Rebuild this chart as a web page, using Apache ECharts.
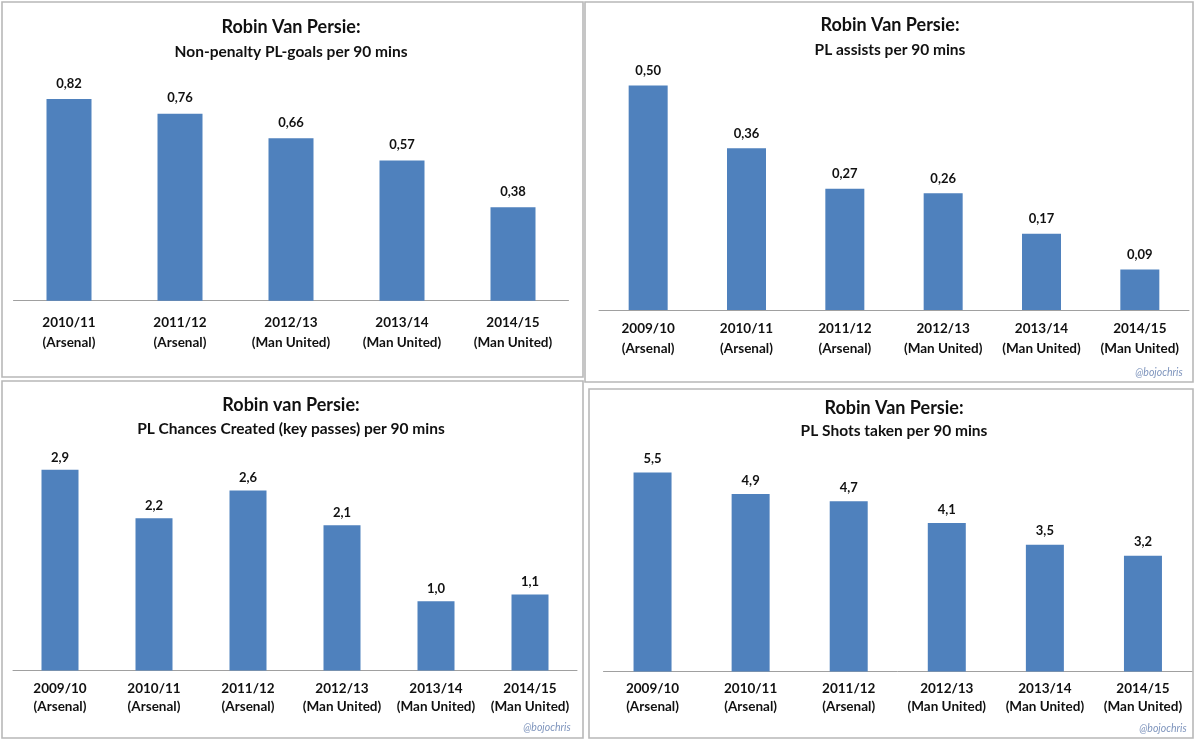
<!DOCTYPE html>
<html>
<head>
<meta charset="utf-8">
<script src="https://cdn.jsdelivr.net/npm/echarts@6/dist/echarts.min.js"></script>
<style>
html,body{margin:0;padding:0;background:#fff;}
#c{width:1200px;height:740px;}
</style>
</head>
<body>
<div id="c"></div>
<script>
// ---- data ----
const goalsSeasons = ['2010/11', '2011/12', '2012/13', '2013/14', '2014/15'];
const goalsClubs = ['Arsenal', 'Arsenal', 'Man United', 'Man United', 'Man United'];
const goalsValues = [0.82, 0.76, 0.66, 0.57, 0.38];

const sixSeasons = ['2009/10', '2010/11', '2011/12', '2012/13', '2013/14', '2014/15'];
const sixClubs = ['Arsenal', 'Arsenal', 'Arsenal', 'Man United', 'Man United', 'Man United'];
const assistsValues = [0.50, 0.36, 0.27, 0.26, 0.17, 0.09];
const chancesValues = [2.9, 2.2, 2.6, 2.1, 1.0, 1.1];
const shotsValues = [5.5, 4.9, 4.7, 4.1, 3.5, 3.2];

const titles = ['Robin Van Persie:', 'Robin Van Persie:', 'Robin van Persie:', 'Robin Van Persie:'];
const subtitles = ['Non-penalty PL-goals per 90 mins', 'PL assists per 90 mins',
  'PL Chances Created (key passes) per 90 mins', 'PL Shots taken per 90 mins'];
const watermark = '@bojochris';

// ---- layout ----
const FONT = 'Lato';
const BAR = '#4F81BD';
const TXT = '#111111';
const panels = [
  {seasons: goalsSeasons, clubs: goalsClubs, values: goalsValues, dec: 2,
   grid: {left: 13.5, width: 555, top: 54.7, height: 246}, max: 1.0, barW: 45,
   tx: 291, ty: 27, sy: 51.5, lblH: 20, margin: 12, dist: 9},
  {seasons: sixSeasons, clubs: sixClubs, values: assistsValues, dec: 2,
   grid: {left: 599, width: 590, top: 40.6, height: 269.4}, max: 0.6, barW: 39,
   tx: 890, ty: 25.5, sy: 50, lblH: 20, margin: 9, dist: 8},
  {seasons: sixSeasons, clubs: sixClubs, values: chancesValues, dec: 1,
   grid: {left: 13, width: 564, top: 393.7, height: 276.8}, max: 4, barW: 37,
   tx: 291, ty: 405.5, sy: 428.5, lblH: 18, margin: 9, dist: 6},
  {seasons: sixSeasons, clubs: sixClubs, values: shotsValues, dec: 1,
   grid: {left: 603.5, width: 588.5, top: 381.9, height: 289.6}, max: 8, barW: 38,
   tx: 894, ty: 408, sy: 431, lblH: 18, margin: 8, dist: 7}
];

const option = {
  backgroundColor: '#ffffff',
  animation: false,
  title: [],
  grid: [],
  xAxis: [],
  yAxis: [],
  series: [],
  graphic: []
};

panels.forEach((p, i) => {
  option.title.push({
    text: titles[i], left: p.tx, top: p.ty - 11, textAlign: 'center', padding: 0,
    textStyle: {fontFamily: FONT, fontWeight: 'bold', fontSize: 18, color: TXT, lineHeight: 22}
  });
  option.title.push({
    text: subtitles[i], left: p.tx, top: p.sy - 10, textAlign: 'center', padding: 0,
    textStyle: {fontFamily: FONT, fontWeight: 'bold', fontSize: 15.5, color: TXT, lineHeight: 20}
  });
  option.grid.push(Object.assign({containLabel: false}, p.grid));
  option.xAxis.push({
    type: 'category', gridIndex: i,
    data: p.seasons.map((s, k) => s + '\n(' + p.clubs[k] + ')'),
    axisLine: {show: true, lineStyle: {color: '#a0a0a0', width: 1}},
    axisTick: {show: false},
    axisLabel: {interval: 0, margin: p.margin, fontFamily: FONT, fontWeight: 'bold',
      fontSize: 13.5, color: TXT, lineHeight: p.lblH}
  });
  option.yAxis.push({
    type: 'value', gridIndex: i, min: 0, max: p.max, show: false,
    splitLine: {show: false}
  });
  option.series.push({
    type: 'bar', xAxisIndex: i, yAxisIndex: i, data: p.values, barWidth: p.barW,
    itemStyle: {color: BAR},
    label: {show: true, position: 'top', distance: p.dist, fontFamily: FONT, fontWeight: 'bold',
      fontSize: 13, color: TXT,
      formatter: (d) => d.value.toFixed(p.dec).replace('.', ',')}
  });
});

// panel frames
const frames = [[2, 2, 581, 375], [585, 2, 608, 380], [2, 381, 581, 357], [589, 389, 604, 349]];
frames.forEach(f => {
  option.graphic.push({type: 'rect', shape: {x: f[0], y: f[1], width: f[2], height: f[3]},
    style: {fill: 'none', stroke: '#b8b8b8', lineWidth: 1.6}, silent: true, z: -1});
});
// watermarks
[[1159, 373], [547, 728], [1163, 729]].forEach(w => {
  option.graphic.push({type: 'text', x: w[0], y: w[1],
    style: {text: watermark, fill: '#7f95bd', font: 'italic 10.5px ' + FONT, textAlign: 'center', textVerticalAlign: 'middle'},
    silent: true});
});

const chart = echarts.init(document.getElementById('c'), null, {renderer: 'canvas'});
chart.setOption(option);
</script>
</body>
</html>
